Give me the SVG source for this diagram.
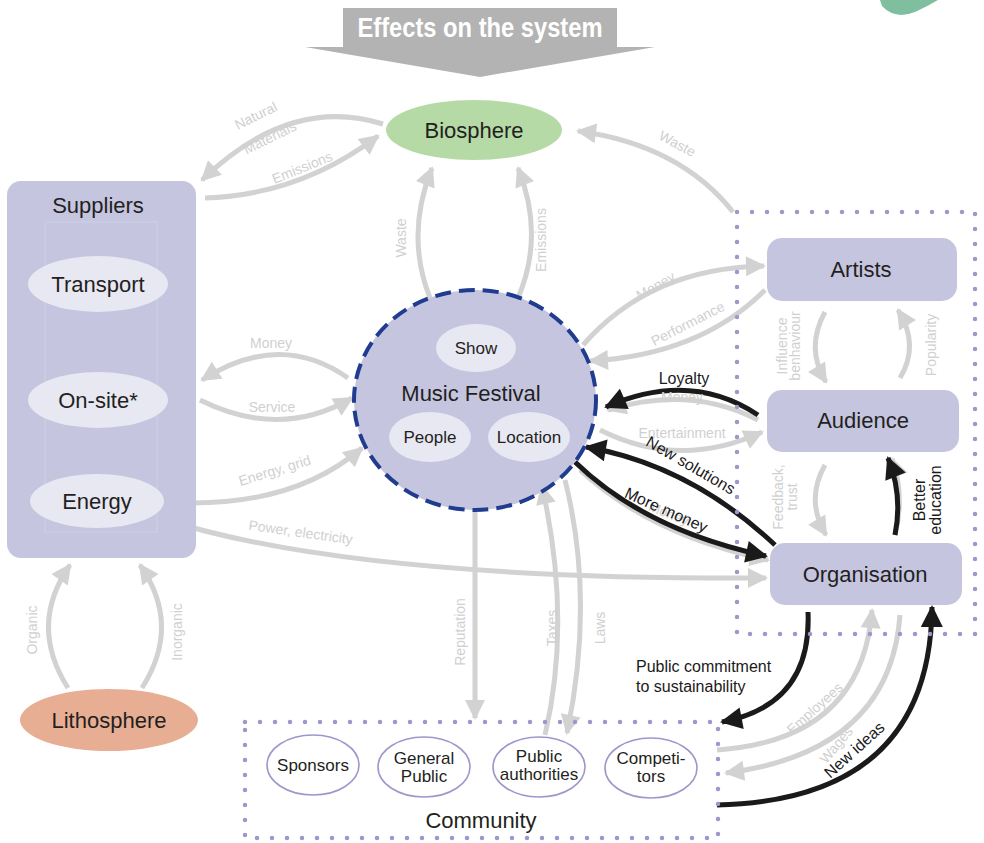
<svg xmlns="http://www.w3.org/2000/svg" width="984" height="843" viewBox="0 0 984 843">
<defs>
<style>
text{font-family:"Liberation Sans Narrow","Liberation Sans",Arial,sans-serif;}
.node{fill:#c5c5e0;}
.inner{fill:#e8e8f3;}
.lbl{font-size:22px;fill:#231f20;text-anchor:middle;}
.sm{font-size:17px;fill:#231f20;text-anchor:middle;}
.g{fill:none;stroke:#d2d2d2;stroke-width:5;}
.b{fill:none;stroke:#1a1a1a;stroke-width:5;}
.gt{font-size:14px;fill:#d0d0d0;text-anchor:middle;}
.bt{font-size:16px;fill:#1a1a1a;text-anchor:middle;}
.bts{font-size:16px;fill:#1a1a1a;text-anchor:start;}
.dot{fill:none;stroke:#9b98cc;stroke-width:4.5;stroke-linecap:round;stroke-dasharray:0 15;}
.cell{fill:#fff;stroke:#9b98cc;stroke-width:1.6;}
</style>
<marker id="ag" markerUnits="userSpaceOnUse" markerWidth="24" markerHeight="24" viewBox="0 0 24 24" refX="20" refY="12" orient="auto"><path d="M2,2 L22,12 L2,22 Z" fill="#d2d2d2"/></marker>
<marker id="ab" markerUnits="userSpaceOnUse" markerWidth="26" markerHeight="26" viewBox="0 0 26 26" refX="22" refY="13" orient="auto"><path d="M2,2 L24,13 L2,24 Z" fill="#1a1a1a"/></marker>
</defs>

<g id="deco">
<path d="M343,8 H617 V47 H655 L480,77 L305,47 H343 Z" fill="#b3b3b3"/>
<text x="480" y="37" font-size="27" font-weight="bold" fill="#fff" text-anchor="middle" textLength="245" lengthAdjust="spacingAndGlyphs">Effects on the system</text>
<path d="M880,0 H938 Q928,6 915,12 Q895,20 882,6 Z" fill="#7fbfa0"/>
</g>

<g id="connectors">
<path class="g" d="M383,124 Q290,95 202,180" marker-end="url(#ag)"/>
<path class="g" d="M205,198 Q300,195 378,136" marker-end="url(#ag)"/>
<path class="g" d="M430,298 Q405,235 432,168" marker-end="url(#ag)"/>
<path class="g" d="M518,298 Q545,235 518,168" marker-end="url(#ag)"/>
<path class="g" d="M733,212 Q680,145 578,131" marker-end="url(#ag)"/>
<path class="g" d="M348,378 Q280,330 202,380" marker-end="url(#ag)"/>
<path class="g" d="M200,400 Q280,440 352,398" marker-end="url(#ag)"/>
<path class="g" d="M165,502 Q290,510 362,448" marker-end="url(#ag)"/>
<path class="g" d="M160,518 Q350,580 766,578" marker-end="url(#ag)"/>
<path class="g" d="M583,345 Q650,268 764,266" marker-end="url(#ag)"/>
<path class="g" d="M765,290 Q700,355 590,361" marker-end="url(#ag)"/>
<path class="g" d="M758,420 Q690,385 608,410" marker-end="url(#ag)"/>
<path class="g" d="M600,430 Q680,470 762,432" marker-end="url(#ag)"/>
<path class="g" d="M580,470 Q650,535 768,560" marker-end="url(#ag)"/>
<path class="g" d="M825,312 Q805,348 826,382" marker-end="url(#ag)"/>
<path class="g" d="M900,378 Q920,345 898,310" marker-end="url(#ag)"/>
<path class="g" d="M825,465 Q805,500 826,535" marker-end="url(#ag)"/>
<path class="g" d="M895,535 Q905,495 892,459" marker-end="url(#ag)"/>
<path class="g" d="M475,512 V718" marker-end="url(#ag)"/>
<path class="g" d="M545,735 Q572,620 542,486" marker-end="url(#ag)"/>
<path class="g" d="M565,480 Q595,600 567,733" marker-end="url(#ag)"/>
<path class="g" d="M717,750 Q862,740 872,610" marker-end="url(#ag)"/>
<path class="g" d="M900,615 Q890,752 726,773" marker-end="url(#ag)"/>
<path class="g" d="M68,688 Q28,625 70,565" marker-end="url(#ag)"/>
<path class="g" d="M142,688 Q182,625 140,565" marker-end="url(#ag)"/>

<path class="b" d="M758,415 Q690,370 606,407" marker-end="url(#ab)"/>
<path class="b" d="M775,545 Q690,465 586,447" marker-end="url(#ab)"/>
<path class="b" d="M575,462 Q645,530 766,556" marker-end="url(#ab)"/>
<path class="b" d="M895,535 Q903,495 888,458" marker-end="url(#ab)"/>
<path class="b" d="M808,612 Q812,705 722,722" marker-end="url(#ab)"/>
<path class="b" d="M717,805 Q930,800 932,607" marker-end="url(#ab)"/>

<text class="gt" transform="translate(258,120) rotate(-26)">Natural</text>
<text class="gt" transform="translate(272,142) rotate(-26)">Materials</text>
<text class="gt" transform="translate(304,172) rotate(-22)">Emissions</text>
<text class="gt" transform="translate(675,148) rotate(28)">Waste</text>
<text class="gt" transform="translate(406,238) rotate(-90)">Waste</text>
<text class="gt" transform="translate(546,240) rotate(-90)">Emissions</text>
<text class="gt" x="271" y="348">Money</text>
<text class="gt" x="272" y="412">Service</text>
<text class="gt" transform="translate(276,475) rotate(-17)">Energy, grid</text>
<text class="gt" transform="translate(300,537) rotate(8)">Power, electricity</text>
<text class="gt" transform="translate(658,290) rotate(-30)">Money</text>
<text class="gt" transform="translate(690,328) rotate(-27)">Performance</text>
<text class="gt" x="682" y="402">Money</text>
<text class="gt" x="682" y="438">Entertainment</text>
<text class="gt" transform="translate(667,518) rotate(22)">Money</text>
<text class="gt" transform="translate(787,346) rotate(-90)">Influence</text>
<text class="gt" transform="translate(800,346) rotate(-90)">benhaviour</text>
<text class="gt" transform="translate(936,345) rotate(-90)">Popularity</text>
<text class="gt" transform="translate(783,497) rotate(-90)">Feedback,</text>
<text class="gt" transform="translate(797,497) rotate(-90)">trust</text>
<text class="gt" transform="translate(465,632) rotate(-90)">Reputation</text>
<text class="gt" transform="translate(557,628) rotate(-90)">Taxes</text>
<text class="gt" transform="translate(605,628) rotate(-90)">Laws</text>
<text class="gt" transform="translate(37,630) rotate(-90)">Organic</text>
<text class="gt" transform="translate(182,632) rotate(-90)">Inorganic</text>
<text class="gt" transform="translate(818,712) rotate(-42)">Employees</text>
<text class="gt" transform="translate(840,748) rotate(-50)">Wages</text>

<text class="bt" x="684" y="384">Loyalty</text>
<text class="bt" transform="translate(688,470) rotate(30)">New solutions</text>
<text class="bt" transform="translate(664,515) rotate(24)">More money</text>
<text class="bt" transform="translate(925,500) rotate(-90)">Better</text>
<text class="bt" transform="translate(941,500) rotate(-90)">education</text>
<text class="bts" x="636" y="672">Public commitment</text>
<text class="bts" x="636" y="692">to sustainability</text>
<text class="bt" transform="translate(858,754) rotate(-42)">New ideas</text>
</g>

<g id="biosphere">
<ellipse cx="474" cy="130" rx="88" ry="30" fill="#b5daa6"/>
<text class="lbl" x="474" y="138">Biosphere</text>
</g>

<g id="suppliers">
<rect class="node" x="7" y="181" width="189" height="377" rx="14"/>
<rect x="45" y="222" width="112" height="310" fill="none" stroke="#cfcfe6" stroke-width="1"/>
<text class="lbl" x="98" y="213">Suppliers</text>
</g>
<g id="transport"><ellipse class="inner" cx="98" cy="284" rx="70" ry="28"/><text class="lbl" x="98" y="292">Transport</text></g>
<g id="onsite"><ellipse class="inner" cx="98" cy="400" rx="70" ry="28"/><text class="lbl" x="98" y="408">On-site*</text></g>
<g id="energy"><ellipse class="inner" cx="97" cy="501" rx="67" ry="27"/><text class="lbl" x="97" y="509">Energy</text></g>

<g id="lithosphere">
<ellipse cx="109" cy="720" rx="89" ry="31" fill="#e8ae94"/>
<text class="lbl" x="109" y="728">Lithosphere</text>
</g>

<g id="festival">
<ellipse cx="475" cy="400" rx="121" ry="110" fill="#c5c5e0" stroke="#1f3c8f" stroke-width="4" stroke-dasharray="16,8"/>
<text class="lbl" x="471" y="401">Music Festival</text>
</g>
<g id="show"><ellipse class="inner" cx="476" cy="348" rx="40" ry="24"/><text class="sm" x="476" y="354">Show</text></g>
<g id="people"><ellipse class="inner" cx="430" cy="437" rx="41" ry="25"/><text class="sm" x="430" y="443">People</text></g>
<g id="location"><ellipse class="inner" cx="529" cy="437" rx="41" ry="25"/><text class="sm" x="529" y="443">Location</text></g>

<g id="orgbox">
<path class="dot" d="M737,212 H975 V634 H737 Z"/>
</g>
<g id="artists"><rect class="node" x="767" y="238" width="190" height="63" rx="15"/><text class="lbl" x="861" y="277">Artists</text></g>
<g id="audience"><rect class="node" x="767" y="390" width="192" height="62" rx="15"/><text class="lbl" x="863" y="428">Audience</text></g>
<g id="organisation"><rect class="node" x="770" y="543" width="192" height="62" rx="15"/><text class="lbl" x="865" y="582">Organisation</text></g>

<g id="community">
<path class="dot" d="M245,722 H718 V838 H245 Z"/>
<text class="lbl" x="481" y="828">Community</text>
</g>
<g id="sponsors"><ellipse class="cell" cx="313" cy="765" rx="46" ry="30"/><text class="sm" x="313" y="771">Sponsors</text></g>
<g id="general"><ellipse class="cell" cx="424" cy="767" rx="46" ry="30"/><text class="sm" x="424" y="764">General</text><text class="sm" x="424" y="782">Public</text></g>
<g id="authorities"><ellipse class="cell" cx="539" cy="767" rx="46" ry="30"/><text class="sm" x="539" y="762">Public</text><text class="sm" x="539" y="780">authorities</text></g>
<g id="competitors"><ellipse class="cell" cx="651" cy="768" rx="46" ry="30"/><text class="sm" x="651" y="764">Competi-</text><text class="sm" x="651" y="782">tors</text></g>
</svg>
